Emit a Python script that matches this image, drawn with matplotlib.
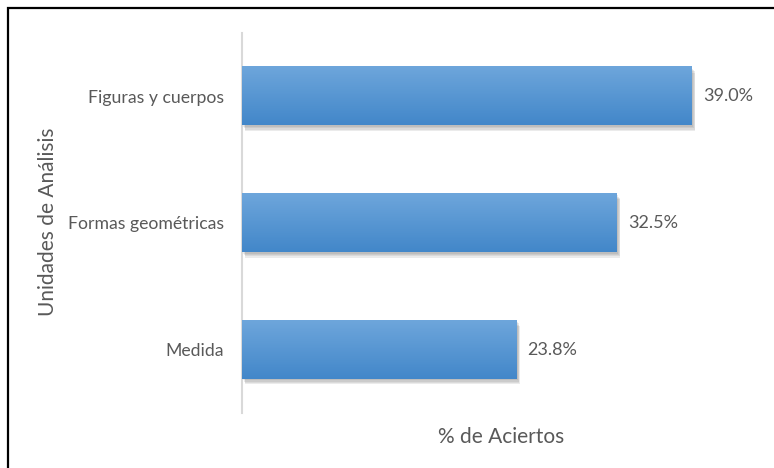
import matplotlib
matplotlib.use("Agg")
import matplotlib.pyplot as plt
import matplotlib.patheffects as pe
from matplotlib.patches import Rectangle
import numpy as np

categories = ["Medida", "Formas geométricas", "Figuras y cuerpos"]
values = [23.8, 32.5, 39.0]
value_labels = ["23.8%", "32.5%", "39.0%"]

plt.rcParams['font.family'] = ['Lato', 'DejaVu Sans']
gray = '#595959'

fig = plt.figure(figsize=(7.74, 4.68), dpi=100)
fig.patch.set_facecolor('white')

# frame around the chart (right and bottom edges are cut off in the source)
fig.patches.append(Rectangle((8 / 774, -0.05), 1.2, 1 - 8 / 468 + 0.05,
                             transform=fig.transFigure, fill=False,
                             edgecolor='black', linewidth=1.6, zorder=0))

ax = fig.add_axes([242 / 774, 1 - 413 / 468, 519 / 774, 380 / 468])
ypos = np.arange(len(categories))
bar_h = 0.46

bars = ax.barh(ypos, values, height=bar_h, color='#5a9ade', zorder=2)
# soft shadow, a few faint layers
shadow = [pe.SimplePatchShadow(offset=(dx, dy), shadow_rgbFace='#606060', alpha=0.12)
          for dx, dy in [(1, -1), (1.5, -2), (2, -3), (2.5, -4)]]
for b in bars:
    b.set_path_effects(shadow + [pe.Normal()])

# vertical gradient on each bar
top = np.array([0.43, 0.65, 0.86])
bot = np.array([0.26, 0.53, 0.79])
t = np.linspace(0, 1, 64)[:, None]
grad = (top[None, :] * (1 - t) + bot[None, :] * t)[:, None, :]
for y, v in zip(ypos, values):
    ax.imshow(grad, extent=(0, v, y - bar_h / 2, y + bar_h / 2),
              origin='upper', aspect='auto', zorder=3)

for y, v, lab in zip(ypos, values, value_labels):
    ax.annotate(lab, (v, y), xytext=(8, 0), textcoords='offset points',
                va='center', ha='left', fontsize=13, color=gray)

ax.set_xlim(0, 45)
ax.set_ylim(-0.5, 2.5)
ax.set_yticks(ypos)
ax.set_yticklabels(categories, fontsize=12.7, color=gray)
ax.tick_params(axis='y', length=0, pad=13)
ax.set_xticks([])
for s in ['top', 'right', 'bottom']:
    ax.spines[s].set_visible(False)
ax.spines['left'].set_color('#d9d9d9')
ax.spines['left'].set_linewidth(1.5)

ax.set_xlabel('% de Aciertos', fontsize=15, color=gray)
ax.xaxis.set_label_coords(0.5, -0.063)
ax.xaxis.label.set_va('center')
ax.set_ylabel('Unidades de Análisis', fontsize=15, color=gray)
ax.yaxis.set_label_coords(-0.374, 0.503)
ax.yaxis.label.set_va('center')

plt.savefig('out.png', dpi=100)
